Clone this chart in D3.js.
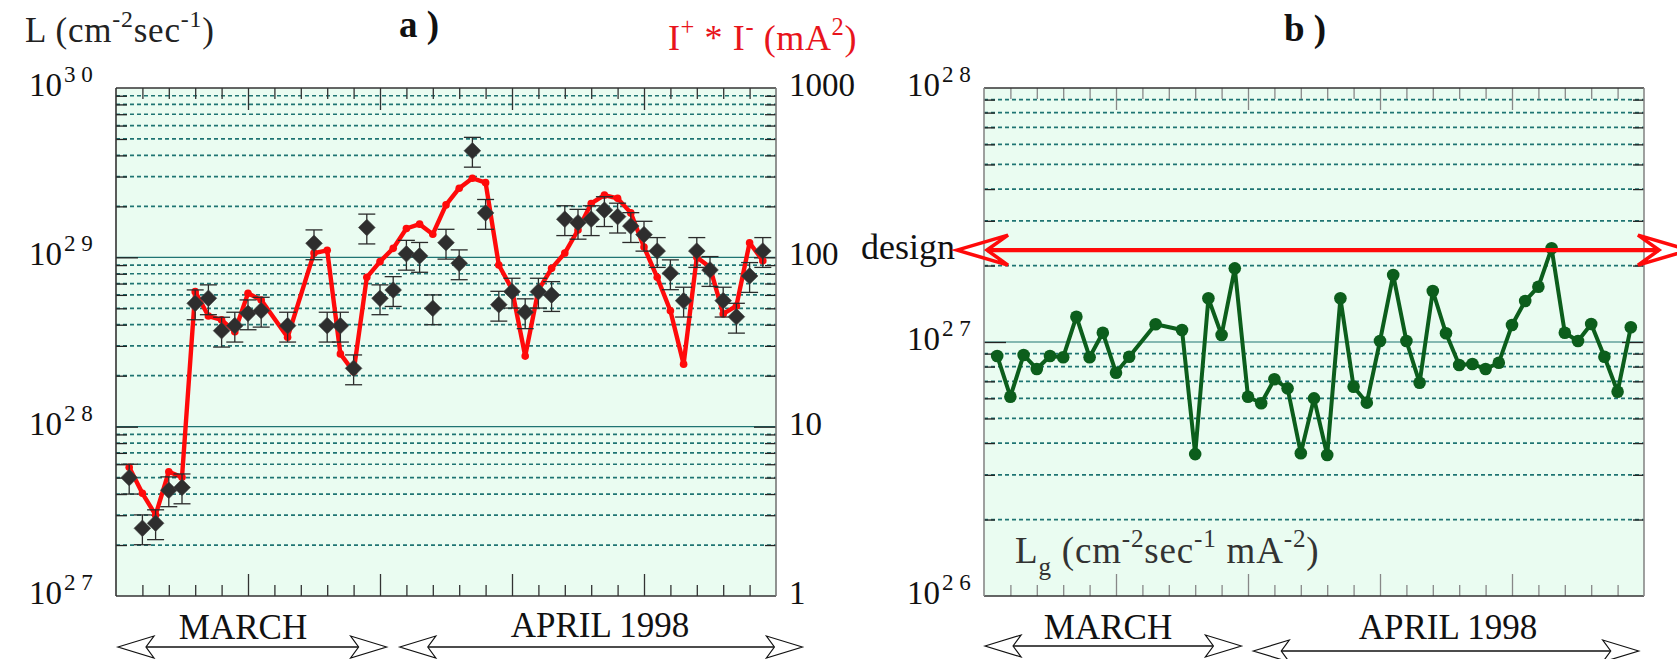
<!DOCTYPE html>
<html>
<head>
<meta charset="utf-8">
<script src="https://cdn.jsdelivr.net/npm/d3@7"></script>
<style>
  body { margin: 0; background: #fff; }
  svg { display: block; }
  text { font-family: "Liberation Serif", "Times New Roman", serif; }
</style>
</head>
<body>
<svg id="chart" width="1677" height="659"></svg>
<script>
// ---------------- data ----------------
// day index along the run (each x tick = 2 days)
const days = [1, 2, 3, 4, 5, 6, 7, 8, 9, 10, 11, 13, 15, 16, 17, 18, 19, 20, 21, 22, 23, 24,
  25, 26, 27, 28, 29, 30, 31, 32, 33, 34, 35, 36, 37, 38, 39, 40, 41, 42, 43, 44, 45, 46, 47, 48, 49];

// luminosity L (cm^-2 s^-1)
const luminosity = [5.00e27, 2.51e27, 2.69e27, 4.21e27, 4.38e27, 5.35e28, 5.73e28, 3.69e28, 3.95e28,
  4.67e28, 4.84e28, 3.95e28, 1.21e29, 3.95e28, 3.95e28, 2.21e28, 1.50e29, 5.73e28, 6.41e28, 1.05e29,
  1.02e29, 5.00e28, 1.22e29, 9.22e28, 4.26e29, 1.83e29, 5.25e28, 6.27e28, 4.74e28, 6.27e28, 5.99e28,
  1.68e29, 1.60e29, 1.68e29, 1.90e29, 1.74e29, 1.53e29, 1.36e29, 1.09e29, 8.05e28, 5.55e28, 1.09e29,
  8.42e28, 5.55e28, 4.46e28, 7.76e28, 1.09e29];

// relative uncertainty of each luminosity point
const luminosityRelError = 0.20;

// beam current product I+ * I- (mA^2)
const currentProduct = [5.75, 4.04, 3.01, 5.42, 5.02, 62.7, 45.0, 42.7, 36.4, 61.3, 56.0, 33.7, 106,
  110, 26.9, 21.1, 76.2, 94.3, 113, 148, 157, 137, 204, 256, 293, 276, 90.1, 64.7, 26.1, 64.1, 86.1,
  106, 145, 208, 233, 223, 183, 115, 76.2, 48.4, 23.4, 100, 87.3, 46.3, 51.6, 122, 95.5];

// specific luminosity Lg (cm^-2 s^-1 mA^-2)
const specificLum = [0.881e27, 0.609e27, 0.889e27, 0.783e27, 0.881e27, 0.871e27, 1.258e27, 0.871e27,
  1.088e27, 0.757e27, 0.875e27, 1.174e27, 1.115e27, 0.362e27, 1.486e27, 1.066e27, 1.950e27, 0.609e27,
  0.574e27, 0.713e27, 0.657e27, 0.365e27, 0.600e27, 0.359e27, 1.486e27, 0.667e27, 0.577e27, 1.009e27,
  1.836e27, 1.009e27, 0.691e27, 1.588e27, 1.082e27, 0.812e27, 0.819e27, 0.783e27, 0.829e27, 1.166e27,
  1.450e27, 1.651e27, 2.338e27, 1.088e27, 1.009e27, 1.177e27, 0.875e27, 0.637e27, 1.143e27];

// design value of the specific luminosity
const designLg = 2.3e27;

// axis ticks
const lumTicks = [1e27, 1e28, 1e29, 1e30];
const lumTickExp = ["2 7", "2 8", "2 9", "3 0"];
const currentTicks = [1, 10, 100, 1000];
const lgTicks = [1e26, 1e27, 1e28];
const lgTickExp = ["2 6", "2 7", "2 8"];
const dayMinorTicks = d3.range(2, 50, 2).filter(d => d % 10 !== 0);
const dayMajorTicks = [10, 20, 30, 40];
const monthLabels = ["MARCH", "APRIL 1998"];

// ---------------- layout ----------------
const svg = d3.select("#chart");
const TOP = 88, BOTTOM = 596;
const BG = "#eafcf1", GRID = "#1f7473";

const xA = d3.scaleLinear().domain([0, 50]).range([116, 776]);
const yL = d3.scaleLog().domain([1e27, 1e30]).range([BOTTOM, TOP]);
const yI = d3.scaleLog().domain([1, 1000]).range([BOTTOM, TOP]);
const xB = d3.scaleLinear().domain([0, 50]).range([984, 1644]);
const yG = d3.scaleLog().domain([1e26, 1e28]).range([BOTTOM, TOP]);

function minorValues(lo, hi) {
  const out = [];
  for (let e = lo; e < hi; e++) for (let k = 2; k <= 9; k++) out.push(k * Math.pow(10, e));
  return out;
}

// rich text with superscripts / subscripts
function rich(sel, parts, size, small = 0.66) {
  let shift = 0;
  parts.forEach(p => {
    const target = p.sup ? -size * 0.42 : p.sub ? size * 0.32 : 0;
    const ts = sel.append("tspan")
      .attr("dy", target - shift)
      .attr("font-size", (p.sup || p.sub) ? size * small : size)
      .text(p.t);
    if (p.dx) ts.attr("dx", p.dx);
    shift = target;
  });
  return sel;
}

function frame(g, x, y, minor, solid, edge) {
  const [x0, x1] = x.range();
  g.append("rect").attr("x", x0).attr("y", TOP).attr("width", x1 - x0).attr("height", BOTTOM - TOP)
    .attr("fill", BG);
  g.append("g").selectAll("line").data(minor).join("line")
    .attr("x1", x0).attr("x2", x1).attr("y1", d => y(d)).attr("y2", d => y(d))
    .attr("stroke", GRID).attr("stroke-width", 1.7).attr("stroke-dasharray", "4,3");
  g.append("g").selectAll("line").data(solid).join("line")
    .attr("x1", x0).attr("x2", x1).attr("y1", d => y(d)).attr("y2", d => y(d))
    .attr("stroke", GRID).attr("stroke-width", 1.2);

  const tick = (axis, tx, ty, color) => {
    const a = g.append("g").attr("transform", `translate(${tx},${ty})`).call(axis);
    a.select(".domain").remove();
    a.selectAll("text").remove();
    a.selectAll("line").attr("stroke", color).attr("stroke-width", 1.3);
  };
  // vertical ticks, pointing inward
  tick(d3.axisRight(y).tickValues(minor).tickSize(11), x0, 0, "#222");
  tick(d3.axisRight(y).tickValues(solid).tickSize(22), x0, 0, "#222");
  tick(d3.axisLeft(y).tickValues(minor).tickSize(11), x1, 0, "#222");
  tick(d3.axisLeft(y).tickValues(solid).tickSize(22), x1, 0, "#222");
  // day ticks on top and bottom
  tick(d3.axisBottom(x).tickValues(dayMinorTicks).tickSize(11), 0, TOP, edge.tick);
  tick(d3.axisBottom(x).tickValues(dayMajorTicks).tickSize(22), 0, TOP, edge.tick);
  tick(d3.axisTop(x).tickValues(dayMinorTicks).tickSize(11), 0, BOTTOM, edge.tick);
  tick(d3.axisTop(x).tickValues(dayMajorTicks).tickSize(22), 0, BOTTOM, edge.tick);

  // frame
  const f = g.append("g").attr("fill", "none").attr("stroke-width", 1.6);
  f.append("line").attr("x1", x0).attr("x2", x1).attr("y1", TOP).attr("y2", TOP).attr("stroke", "#333");
  f.append("line").attr("x1", x0).attr("x2", x1).attr("y1", BOTTOM).attr("y2", BOTTOM).attr("stroke", "#333");
  f.append("line").attr("x1", x0).attr("x2", x0).attr("y1", TOP).attr("y2", BOTTOM).attr("stroke", edge.left);
  f.append("line").attr("x1", x1).attr("x2", x1).attr("y1", TOP).attr("y2", BOTTOM).attr("stroke", edge.right);
}

// hollow double-headed arrow
function doubleArrow(g, xl, xr, y, o) {
  const { len, half, notch, color, width, shaft } = o;
  g.append("line").attr("x1", xl + notch).attr("x2", xr - notch).attr("y1", y).attr("y2", y)
    .attr("stroke", color).attr("stroke-width", shaft);
  const head = (tip, dir) => [
    [tip, y], [tip + dir * len, y - half], [tip + dir * notch, y], [tip + dir * len, y + half]
  ];
  [head(xl, 1), head(xr, -1)].forEach(pts => {
    g.append("path").attr("d", d3.line()(pts) + "Z")
      .attr("fill", o.fill).attr("stroke", color).attr("stroke-width", width)
      .attr("stroke-linejoin", "miter");
  });
}

function expLabel(g, x, y, exp) {
  const t = g.append("text").attr("x", x).attr("y", y).attr("fill", "#111");
  rich(t, [{ t: "10" }, { t: exp, sup: true, dx: 2 }], 33, 0.7);
}

// ---------------- panel a ----------------
const gA = svg.append("g");
frame(gA, xA, yL, minorValues(27, 30), [1e28, 1e29], { tick: "#333", left: "#333", right: "#777" });

lumTicks.forEach((v, i) => expLabel(gA, 29, yL(v) + 8, lumTickExp[i]));
gA.selectAll("text.cur").data(currentTicks).join("text").attr("class", "cur")
  .attr("x", 789).attr("y", d => yI(d) + 8).attr("font-size", 33).attr("fill", "#111").text(d => d);

rich(gA.append("text").attr("x", 25).attr("y", 42).attr("fill", "#222").attr("letter-spacing", 0.8),
  [{ t: "L (cm" }, { t: "-2", sup: true }, { t: "sec" }, { t: "-1", sup: true }, { t: ")" }], 35, 0.68);
gA.append("text").attr("x", 399).attr("y", 37).attr("font-size", 37).attr("font-weight", "bold")
  .attr("fill", "#111").text("a )");
rich(gA.append("text").attr("x", 668).attr("y", 50).attr("fill", "#e8141c").attr("letter-spacing", 0.6),
  [{ t: "I" }, { t: "+", sup: true }, { t: " * I" }, { t: "-", sup: true }, { t: " (mA" }, { t: "2", sup: true }, { t: ")" }], 36, 0.68);

// current product line
const ptsI = days.map((d, i) => [xA(d), yI(currentProduct[i])]);
gA.append("path").attr("d", d3.line()(ptsI)).attr("fill", "none").attr("stroke", "#ff0a0a")
  .attr("stroke-width", 4.4).attr("stroke-linejoin", "round");
gA.append("g").selectAll("circle").data(ptsI).join("circle")
  .attr("cx", d => d[0]).attr("cy", d => d[1]).attr("r", 3.8).attr("fill", "#ff0a0a");

// luminosity points with error bars
const lum = days.map((d, i) => ({ d, v: luminosity[i] }));
const eb = gA.append("g").attr("stroke", "#2b2b2b").attr("stroke-width", 1.3);
lum.forEach(p => {
  const x = xA(p.d), yt = yL(p.v * (1 + luminosityRelError)), yb = yL(p.v * (1 - luminosityRelError));
  eb.append("line").attr("x1", x).attr("x2", x).attr("y1", yt).attr("y2", yb);
  eb.append("line").attr("x1", x - 8.5).attr("x2", x + 8.5).attr("y1", yt).attr("y2", yt);
  eb.append("line").attr("x1", x - 8.5).attr("x2", x + 8.5).attr("y1", yb).attr("y2", yb);
});
gA.append("g").selectAll("path").data(lum).join("path")
  .attr("d", d3.symbol(d3.symbolSquare, 140))
  .attr("transform", p => `translate(${xA(p.d)},${yL(p.v)}) rotate(45)`)
  .attr("fill", "#2e2e2e").attr("stroke", "#444").attr("stroke-width", 0.6);

// month arrows
const arrowOpts = { len: 36, half: 11, notch: 28, color: "#111", width: 1.2, shaft: 1.6, fill: "#fff" };
gA.append("text").attr("x", 243).attr("y", 639).attr("text-anchor", "middle").attr("font-size", 35)
  .attr("fill", "#111").text(monthLabels[0]);
gA.append("text").attr("x", 600).attr("y", 637).attr("text-anchor", "middle").attr("font-size", 35)
  .attr("fill", "#111").text(monthLabels[1]);
doubleArrow(gA, xA(0.15), xA(20.5), 647, arrowOpts);
doubleArrow(gA, xA(21.5), xA(52), 647, arrowOpts);

// ---------------- panel b ----------------
const gB = svg.append("g");
frame(gB, xB, yG, minorValues(26, 28), [1e27], { tick: "#888", left: "#888", right: "#888" });
lgTicks.forEach((v, i) => expLabel(gB, 907, yG(v) + 8, lgTickExp[i]));
gB.append("text").attr("x", 1284).attr("y", 41).attr("font-size", 37).attr("font-weight", "bold")
  .attr("fill", "#111").text("b )");
rich(gB.append("text").attr("x", 1015).attr("y", 563).attr("fill", "#333").attr("letter-spacing", 0.8),
  [{ t: "L" }, { t: "g", sub: true }, { t: " (cm" }, { t: "-2", sup: true }, { t: "sec" }, { t: "-1", sup: true },
   { t: " mA" }, { t: "-2", sup: true }, { t: ")" }], 37, 0.68);

// design level
const yDesign = yG(designLg);
svg.append("text").attr("x", 955).attr("y", yDesign + 9).attr("text-anchor", "end").attr("font-size", 36)
  .attr("fill", "#111").text("design");
doubleArrow(svg, 957, 1689, yDesign,
  { len: 51, half: 15, notch: 30, color: "#ff0a0a", width: 3.6, shaft: 4.2, fill: "none" });

// specific luminosity line
const ptsG = days.map((d, i) => [xB(d), yG(specificLum[i])]);
gB.append("path").attr("d", d3.line()(ptsG)).attr("fill", "none").attr("stroke", "#0c5e1c")
  .attr("stroke-width", 4).attr("stroke-linejoin", "round");
gB.append("g").selectAll("circle").data(ptsG).join("circle")
  .attr("cx", d => d[0]).attr("cy", d => d[1]).attr("r", 6.3).attr("fill", "#0c5e1c");

gB.append("text").attr("x", 1108).attr("y", 639).attr("text-anchor", "middle").attr("font-size", 35)
  .attr("fill", "#111").text(monthLabels[0]);
gB.append("text").attr("x", 1448).attr("y", 639).attr("text-anchor", "middle").attr("font-size", 35)
  .attr("fill", "#111").text(monthLabels[1]);
doubleArrow(gB, xB(0.08), xB(19.5), 646, arrowOpts);
doubleArrow(gB, xB(20.4), xB(49.6), 651, arrowOpts);
</script>
</body>
</html>
